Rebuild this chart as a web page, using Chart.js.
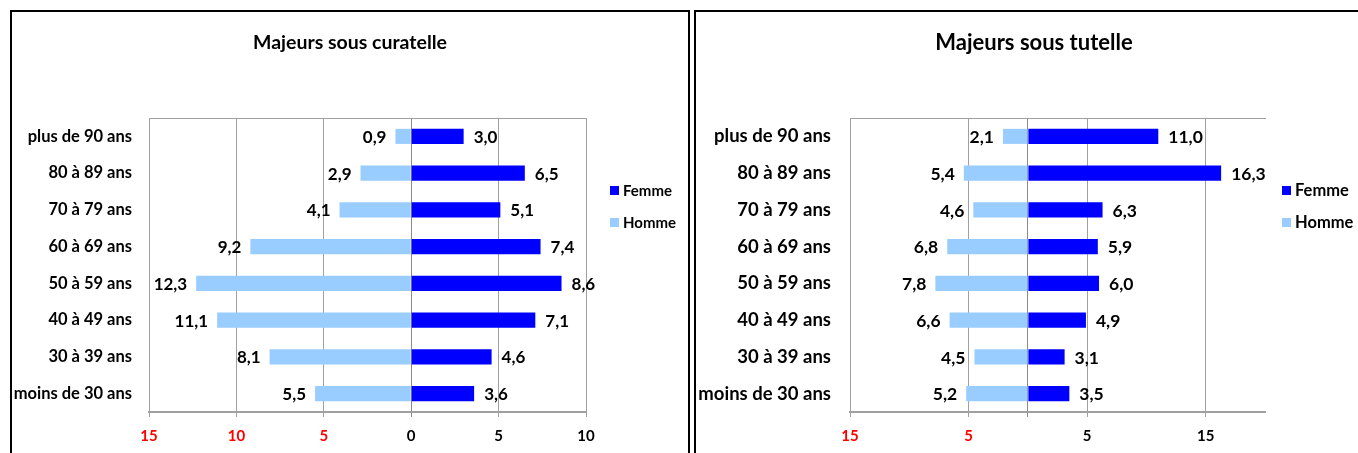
<!DOCTYPE html>
<html>
<head>
<meta charset="utf-8">
<script src="https://cdn.jsdelivr.net/npm/chart.js@4"></script>
<style>
    body { margin: 0; width: 1358px; height: 453px; overflow: hidden; position: relative; background: #fff; font-family: Lato, sans-serif; }
    .box { position: absolute; top: 10px; height: 470px; border: 2px solid #000; background: #fff; }
    #box1 { left: 10px; width: 676px; }
    #box2 { left: 694px; width: 700px; }
    canvas { position: absolute; left: 0; top: 0; }
    .legend { position: absolute; font-family: Lato, sans-serif; font-weight: bold; color: #000; }
    .legend div { height: 32px; display: flex; align-items: center; line-height: 1; }
    .legend span { display: inline-block; width: 9px; height: 9px; margin-right: 4px; }
</style>
</head>
<body>
<div class="box" id="box1">
    <canvas id="chart1" width="676" height="445"></canvas>
    <div class="legend" id="legend1" style="left:598px;top:162px;font-size:15px"></div>
</div>
<div class="box" id="box2">
    <canvas id="chart2" width="676" height="445"></canvas>
    <div class="legend" id="legend2" style="left:586px;top:162px;font-size:16.5px"></div>
</div>
<script>
// categories, top to bottom
let ageGroups = ['plus de 90 ans', '80 à 89 ans', '70 à 79 ans', '60 à 69 ans',
    '50 à 59 ans', '40 à 49 ans', '30 à 39 ans', 'moins de 30 ans'];

// majeurs sous curatelle
let curFemme = [3.0, 6.5, 5.1, 7.4, 8.6, 7.1, 4.6, 3.6];
let curHomme = [0.9, 2.9, 4.1, 9.2, 12.3, 11.1, 8.1, 5.5];
let curTicks = [-15, -10, -5, 0, 5, 10];

// majeurs sous tutelle
let tutFemme = [11.0, 16.3, 6.3, 5.9, 6.0, 4.9, 3.1, 3.5];
let tutHomme = [2.1, 5.4, 4.6, 6.8, 7.8, 6.6, 4.5, 5.2];
let tutTicks = [-15, -5, 0, 5, 15, 20];
let tutHiddenTicks = [0, 20];

let seriesNames = ['Femme', 'Homme'];
let seriesColors = ['#0000ff', '#99ccff'];

const FONT = 'Lato, sans-serif';
const gridColor = '#a0a0a0';

function fmt(v) {
    return v.toFixed(1).replace('.', ',');
}

// writes the value next to the end of every bar
const barLabels = {
    id: 'barLabels',
    afterDatasetsDraw(chart) {
        const ctx = chart.ctx;
        ctx.save();
        ctx.font = 'bold ' + chart.options.valueSize + 'px ' + FONT;
        ctx.fillStyle = '#000';
        ctx.textBaseline = 'middle';
        chart.data.datasets.forEach((ds, i) => {
            chart.getDatasetMeta(i).data.forEach((bar, j) => {
                const v = Math.abs(ds.data[j]);
                if (ds.data[j] < 0) {
                    ctx.textAlign = 'right';
                    ctx.fillText(fmt(v), bar.x - 9, bar.y + 1);
                } else {
                    ctx.textAlign = 'left';
                    ctx.fillText(fmt(v), bar.x + 10, bar.y + 1);
                }
            });
        });
        ctx.restore();
    }
};

function makeChart(canvasId, legendId, title, femme, homme, opts) {
    const ctx = document.getElementById(canvasId).getContext('2d');
    const ticks = opts.ticks;
    const hidden = opts.hidden || [];
    const titleLine = opts.titleSize * 1.2;
    const titleTop = 31 - titleLine / 2;
    new Chart(ctx, {
        type: 'bar',
        data: {
            labels: ageGroups,
            datasets: [{
                label: seriesNames[0],
                data: femme,
                backgroundColor: seriesColors[0],
                barPercentage: 0.41,
                categoryPercentage: 1
            }, {
                label: seriesNames[1],
                data: homme.map(v => -v),
                backgroundColor: seriesColors[1],
                barPercentage: 0.41,
                categoryPercentage: 1
            }]
        },
        options: {
            indexAxis: 'y',
            responsive: false,
            animation: false,
            valueSize: opts.valueSize,
            layout: { padding: 0 },
            plugins: {
                legend: { display: false },
                tooltip: { enabled: false },
                title: {
                    display: true,
                    text: title,
                    color: '#000',
                    font: { family: FONT, size: opts.titleSize, weight: 'bold' },
                    padding: { top: titleTop, bottom: 106 - titleTop - titleLine }
                }
            },
            scales: {
                x: {
                    type: 'linear',
                    stacked: true,
                    min: ticks[0],
                    max: ticks[ticks.length - 1],
                    afterBuildTicks: axis => { axis.ticks = ticks.map(v => ({ value: v })) },
                    afterFit: s => { s.height = 45 },
                    grid: {
                        color: c => hidden.includes(c.tick.value) && c.tick.value !== 0 ? 'rgba(0,0,0,0)'
                            : (c.tick.value === 0 ? '#8a8a8a' : gridColor),
                        tickLength: 5
                    },
                    border: { color: gridColor, width: 2 },
                    ticks: {
                        padding: 10,
                        maxRotation: 0,
                        color: c => c.tick.value < 0 ? '#ff0000' : '#000',
                        font: { family: FONT, size: 15, weight: 'bold' },
                        callback: v => hidden.includes(v) ? '' : Math.abs(v)
                    }
                },
                x2: {
                    type: 'linear',
                    position: 'top',
                    min: ticks[0],
                    max: ticks[ticks.length - 1],
                    grid: { display: false, drawTicks: false },
                    ticks: { display: false },
                    border: { color: gridColor, width: 1 }
                },
                y: {
                    stacked: true,
                    afterFit: s => { s.width = opts.axisWidth },
                    grid: { display: false, drawTicks: false },
                    border: { color: gridColor, width: 1 },
                    ticks: {
                        padding: opts.labelPad,
                        color: '#000',
                        font: { family: FONT, size: opts.labelSize, weight: 'bold' }
                    }
                },
                // empty axis on the right keeps room for the legend
                y2: {
                    type: 'category',
                    position: 'right',
                    afterFit: s => { s.width = opts.padRight },
                    grid: { display: false, drawTicks: false },
                    border: { display: false },
                    ticks: { display: false }
                }
            }
        },
        plugins: [barLabels]
    });

    const legend = document.getElementById(legendId);
    seriesNames.forEach((name, i) => {
        const row = document.createElement('div');
        const sq = document.createElement('span');
        sq.style.background = seriesColors[i];
        row.appendChild(sq);
        row.appendChild(document.createTextNode(name));
        legend.appendChild(row);
    });
}

makeChart('chart1', 'legend1', 'Majeurs sous curatelle', curFemme, curHomme,
    { ticks: curTicks, padRight: 102, axisWidth: 137, labelPad: 17,
      titleSize: 19.5, labelSize: 16.5, valueSize: 17 });
makeChart('chart2', 'legend2', 'Majeurs sous tutelle', tutFemme, tutHomme,
    { ticks: tutTicks, hidden: tutHiddenTicks, padRight: 107, axisWidth: 154, labelPad: 19,
      titleSize: 22, labelSize: 18.5, valueSize: 17.5 });
</script>
</body>
</html>
